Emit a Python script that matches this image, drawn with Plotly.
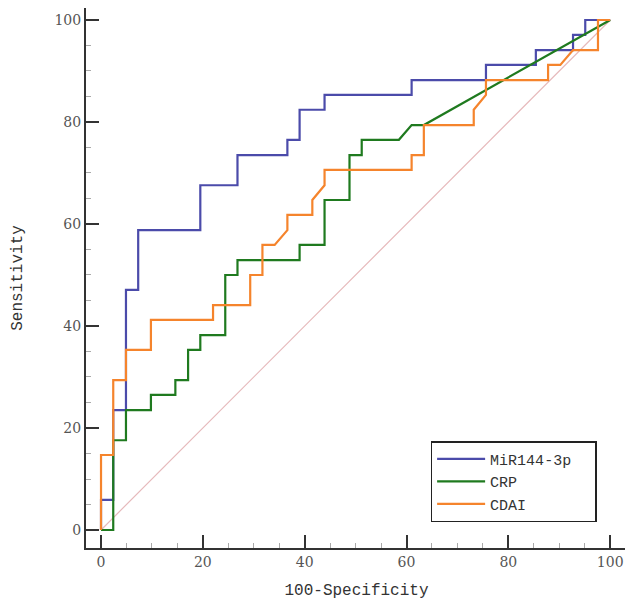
import plotly.graph_objects as go

# ROC step vertices (100-Specificity, Sensitivity)
mir_x = [0, 0, 2.4, 2.4, 4.9, 4.9, 7.3, 7.3, 19.5, 19.5, 26.8, 26.8, 36.6, 36.6, 39.0, 39.0,
         43.9, 43.9, 61.0, 61.0, 75.6, 75.6, 85.4, 85.4, 92.7, 92.7, 95.1, 95.1, 100]
mir_y = [0, 5.9, 5.9, 23.5, 23.5, 47.1, 47.1, 58.8, 58.8, 67.6, 67.6, 73.5, 73.5, 76.5, 76.5, 82.4,
         82.4, 85.3, 85.3, 88.2, 88.2, 91.2, 91.2, 94.1, 94.1, 97.1, 97.1, 100, 100]

crp_x = [0, 2.4, 2.4, 4.9, 4.9, 9.8, 9.8, 14.6, 14.6, 17.1, 17.1, 19.5, 19.5, 24.4, 24.4, 26.8,
         26.8, 39.0, 39.0, 43.9, 43.9, 48.8, 48.8, 51.2, 51.2, 58.5, 61.0, 63.4, 100]
crp_y = [0, 0, 17.6, 17.6, 23.5, 23.5, 26.5, 26.5, 29.4, 29.4, 35.3, 35.3, 38.2, 38.2, 50.0, 50.0,
         52.9, 52.9, 55.9, 55.9, 64.7, 64.7, 73.5, 73.5, 76.5, 76.5, 79.4, 79.4, 100]

cdai_x = [0, 0, 2.4, 2.4, 4.9, 4.9, 9.8, 9.8, 22.0, 22.0, 29.3, 29.3, 31.7, 31.7, 34.1, 36.6,
          36.6, 41.5, 41.5, 43.9, 43.9, 61.0, 61.0, 63.4, 63.4, 73.2, 73.2, 75.6, 75.6, 87.8,
          87.8, 90.2, 92.7, 97.6, 97.6, 100]
cdai_y = [0, 14.7, 14.7, 29.4, 29.4, 35.3, 35.3, 41.2, 41.2, 44.1, 44.1, 50.0, 50.0, 55.9, 55.9, 58.8,
          61.8, 61.8, 64.7, 67.6, 70.6, 70.6, 73.5, 73.5, 79.4, 79.4, 82.4, 85.3, 88.2, 88.2,
          91.2, 91.2, 94.1, 94.1, 100, 100]

ref_x = [0, 100]
ref_y = [0, 100]

names = ['MiR144-3p\u00a0\u00a0', 'CRP', 'CDAI']
colors = ['#4b4baa', '#1f7a1f', '#f5842c']

fig = go.Figure()
fig.add_trace(go.Scatter(x=ref_x, y=ref_y, mode='lines', showlegend=False,
                         line=dict(color='#e6b9bb', width=1.2), hoverinfo='skip'))
for xs, ys, name, c in zip([mir_x, crp_x, cdai_x], [mir_y, crp_y, cdai_y], names, colors):
    fig.add_trace(go.Scatter(x=xs, y=ys, mode='lines', name=name,
                             line=dict(color=c, width=2.2)))

tickfont = dict(family='DejaVu Serif', size=14, color='#555')
titlefont = dict(family='Liberation Mono', size=16, color='#333')

axis_common = dict(
    showgrid=False, zeroline=False, automargin=False,
    showline=True, linecolor='#333', linewidth=2,
    ticks='inside', ticklen=13, tickwidth=2, tickcolor='#333',
    tick0=0, dtick=20, tickfont=tickfont,
    minor=dict(ticks='inside', dtick=5, ticklen=5, tickwidth=1, tickcolor='#aaa', showgrid=False),
)

fig.update_xaxes(range=[-2.95, 103.3], title=dict(text='100-Specificity', font=titlefont, standoff=15),
                 **axis_common)
fig.update_yaxes(range=[-3.53, 102.35], title=dict(text='Sensitivity', font=titlefont, standoff=28),
                 **axis_common)

# page body adds an 8px offset, so the figure is sized to fit inside the window
fig.update_layout(
    width=625, height=598,
    margin=dict(l=78, r=6, t=0, b=58),
    plot_bgcolor='white', paper_bgcolor='white',
    legend=dict(
        x=0.637, y=0.198, xanchor='left', yanchor='top',
        bordercolor='#222', borderwidth=1.5, bgcolor='white',
        font=dict(family='Liberation Mono', size=15, color='#333'),
        tracegroupgap=0, itemwidth=48,
    ),
)

fig.write_html("out.html")
